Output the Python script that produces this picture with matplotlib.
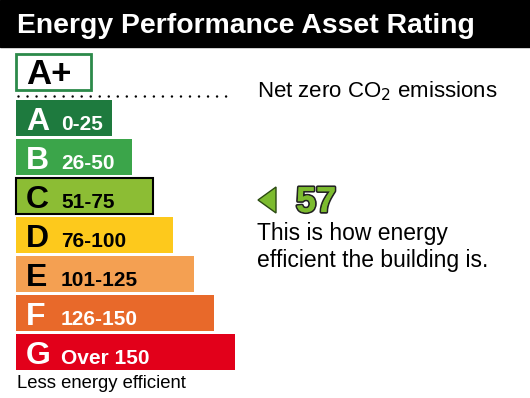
import matplotlib.pyplot as plt
import matplotlib.patheffects as pe
from matplotlib.patches import Rectangle, Polygon

plt.rcParams['font.family'] = ['Liberation Sans', 'DejaVu Sans']

# Rating bands
bands = ['A', 'B', 'C', 'D', 'E', 'F', 'G']
ranges = ['0-25', '26-50', '51-75', '76-100', '101-125', '126-150', 'Over 150']
colors = ['#1e7a3e', '#3ba54a', '#8cbd34', '#fdc91c', '#f4a052', '#e8692a', '#e2001a']
text_colors = ['white', 'white', 'black', 'black', 'black', 'white', 'white']
rating = 57
rating_band = 'C'
rating_color = '#7cbb2f'

fig = plt.figure(figsize=(5.3, 3.98), dpi=100)
ax = fig.add_axes([0, 0, 1, 1])
ax.set_xlim(0, 530)
ax.set_ylim(398, 0)
ax.axis('off')

# Title bar
ax.add_patch(Rectangle((0, 0), 530, 47, color='black'))
ax.text(17, 33, 'Energy Performance Asset Rating', color='white', fontsize=20.4,
        fontweight='bold', va='baseline', ha='left')

# A+ box and dotted line
ax.add_patch(Rectangle((16, 54), 75, 36, facecolor='white', edgecolor='#2c8a4a', lw=2))
ax.text(26, 84, 'A+', fontsize=25, fontweight='bold', va='baseline', ha='left')
ax.plot([18, 233], [96, 96], color='black', lw=1.8, ls=(0, (0.01, 3.6)),
        dash_capstyle='round')
ax.text(257, 97, 'Net zero CO$_2$ emissions', fontsize=16, va='baseline', ha='left')

# Band bars
top, pitch, h = 100, 39, 36
for i, b in enumerate(bands):
    y = top + i * pitch
    w = 96 + i * 20.5
    edge = 'black' if b == rating_band else colors[i]
    ax.add_patch(Rectangle((15.5, y), w, h, facecolor=colors[i], edgecolor=edge,
                           lw=1.5 if b == rating_band else 0))
    ax.text(26, y + 30, b, fontsize=23, fontweight='bold', color=text_colors[i],
            va='baseline', ha='left')
    ax.text(61, y + 30, ranges[i], fontsize=15, fontweight='bold',
            color=text_colors[i], va='baseline', ha='left')

ax.text(17, 388, 'Less energy efficient', fontsize=13.3, va='baseline', ha='left')

# Rating indicator
yc = 200
ax.add_patch(Polygon([[258, yc], [276, yc - 13], [276, yc + 13]], closed=True,
                     facecolor=rating_color, edgecolor='#2b4a12', lw=1))
ax.text(296, 212, str(rating), fontsize=26, fontweight='bold', color=rating_color,
        va='baseline', ha='left',
        path_effects=[pe.withStroke(linewidth=2.5, foreground='#222222'), pe.Normal()])
ax.text(257, 240, 'This is how energy', fontsize=16.5, va='baseline', ha='left')
ax.text(257, 267, 'efficient the building is.', fontsize=16.5, va='baseline', ha='left')

fig.savefig('out.png', dpi=100)
